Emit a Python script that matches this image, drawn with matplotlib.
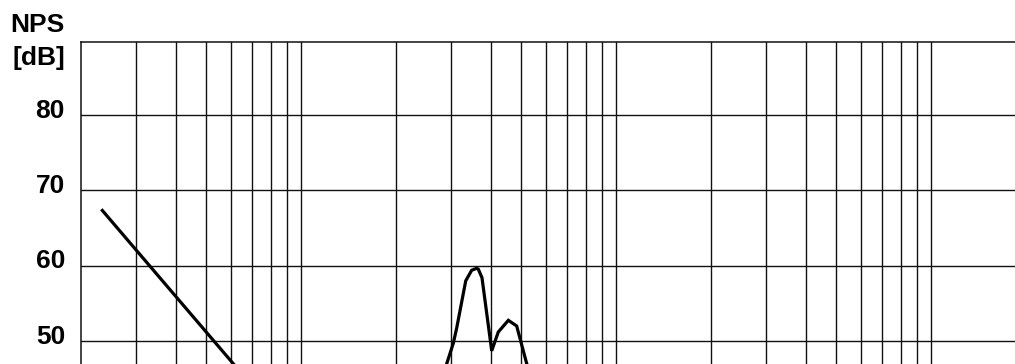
import matplotlib
matplotlib.use("Agg")
import matplotlib.pyplot as plt
from matplotlib.transforms import blended_transform_factory, ScaledTranslation

# Sound pressure level spectrum (NPS) versus frequency in Hz
low_freq = [11.6, 31.0]
low_level = [67.5, 46.6]

band_freq = [142.6, 144.9, 152.0, 155.8, 166.5, 173.9, 180.1, 182.5, 187.5,
             201.3, 211.2, 227.3, 241.6, 260.0, 263.0]
band_level = [46.0, 47.0, 49.7, 51.7, 58.0, 59.4, 59.65, 59.55, 58.4,
              48.7, 51.2, 52.75, 52.0, 47.0, 46.5]

y_ticks = [50, 60, 70, 80]
y_tick_labels = ["50", "60", "70", "80"]
x_grid = [15, 20, 25, 30, 35, 40, 45, 50,
          100, 150, 200, 250, 300, 350, 400, 450, 500,
          1000, 1500, 2000, 2500, 3000, 3500, 4000, 4500, 5000]

W, H, DPI = 1015, 364, 100
fig = plt.figure(figsize=(W / DPI, H / DPI), dpi=DPI)

left_px, top_px, right_px = 81, 41.7, 1026
ax = fig.add_axes([left_px / W, 0, (right_px - left_px) / W, (H - top_px) / H])
ax.set_xscale("log")
ax.set_xlim(10, 10000)
ax.set_ylim(46.95, 89.75)

grid_kw = dict(color="#111111", lw=1.0, zorder=1)
for f in x_grid:
    ax.axvline(f, **grid_kw)
for v in y_ticks:
    ax.axhline(v, **grid_kw)

ax.plot(low_freq, low_level, color="black", lw=2.3, zorder=3,
        solid_capstyle="butt")
ax.plot(band_freq, band_level, color="black", lw=2.3, zorder=3,
        solid_joinstyle="miter")

ax.set_xticks([])
ax.set_yticks([])
ax.minorticks_off()
for side in ("right", "bottom"):
    ax.spines[side].set_visible(False)
for side in ("left", "top"):
    ax.spines[side].set_color("#111111")
    ax.spines[side].set_linewidth(1.1)

font = dict(family=["Liberation Sans", "DejaVu Sans"], weight="bold",
            size=19, color="black")

trans = blended_transform_factory(ax.transAxes, ax.transData)
shift = ScaledTranslation(-16 / DPI, -2.5 / DPI, fig.dpi_scale_trans)
for v, lab in zip(y_ticks, y_tick_labels):
    ax.text(0, v, lab, transform=trans + shift, ha="right", va="baseline",
            clip_on=False, **font)

fig.text(65 / W, 1 - 32.3 / H, "NPS", ha="right", va="baseline", **font)
fig.text(65 / W, 1 - 65 / H, "[dB]", ha="right", va="baseline", **font)

fig.savefig("out.png", dpi=DPI)
